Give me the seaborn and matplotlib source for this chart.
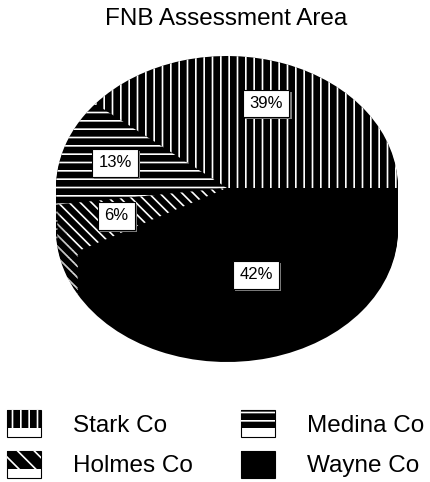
import matplotlib
matplotlib.use("Agg")
import matplotlib.pyplot as plt
import matplotlib.patheffects as pe
from matplotlib.patches import Patch, Rectangle
from matplotlib.legend_handler import HandlerBase
import seaborn as sns

# Data
counties = ['Stark Co', 'Medina Co', 'Holmes Co', 'Wayne Co']
shares = [39, 13, 6, 42]
hatches = ['||', '--', '\\\\\\', '']
legend_hatches = ['||', '--', '\\\\', '']

sns.set_theme(style='white')
plt.rcParams['font.family'] = ['Liberation Sans', 'DejaVu Sans']
plt.rcParams['text.color'] = 'black'
plt.rcParams['hatch.linewidth'] = 1.2


class SwatchHandler(HandlerBase):
    # hatched block on top, open white box underneath (as in the old chart legend)
    def create_artists(self, legend, orig_handle, xdescent, ydescent,
                       width, height, fontsize, trans):
        box = Rectangle((-xdescent, -ydescent), width, height,
                        facecolor='white', edgecolor='black', linewidth=0.8,
                        transform=trans)
        frac = 1.0 if orig_handle.get_hatch() in (None, '') else 0.68
        top = Rectangle((-xdescent, -ydescent + height * (1 - frac)),
                        width, height * frac, facecolor='black',
                        edgecolor='white', linewidth=0,
                        hatch=orig_handle.get_hatch(), transform=trans)
        return [box, top]


fig = plt.figure(figsize=(4.31, 4.82), dpi=100)
ax = fig.add_axes([56 / 431, 1 - 362 / 482, 342 / 431, 306 / 482])

depth = 42 / 132  # side thickness in units of the vertical radius
n_layers = 24

# side of the tilted pie: stacked copies, drawn bottom first
for k in range(n_layers, 0, -1):
    off = -depth * k / n_layers
    wedges, _ = ax.pie(shares, startangle=0, counterclock=True,
                       center=(0, off), radius=1,
                       wedgeprops=dict(linewidth=0))
    for w, h in zip(wedges, hatches):
        w.set_facecolor('black')
        w.set_edgecolor('white')
        w.set_hatch(h)

# top face
wedges, _, pcts = ax.pie(shares, startangle=0, counterclock=True,
                         center=(0, 0), radius=1,
                         autopct='%.0f%%', pctdistance=0.68,
                         wedgeprops=dict(linewidth=0),
                         textprops=dict(fontsize=12, color='black'))
for w, h in zip(wedges, hatches):
    w.set_facecolor('black')
    w.set_edgecolor('white')
    w.set_hatch(h)
for t in pcts:
    t.set_bbox(dict(boxstyle='square,pad=0.38', facecolor='white',
                    edgecolor='black', linewidth=0.8))
    t.get_bbox_patch().set_path_effects(
        [pe.SimplePatchShadow(offset=(1.5, -1.5), shadow_rgbFace='gray', alpha=1),
         pe.Normal()])

ax.set_aspect('auto')
ax.set_xlim(-1, 1)
ax.set_ylim(-1 - depth, 1)
ax.axis('off')

fig.text(226 / 431, 1 - 19 / 482, 'FNB Assessment Area', ha='center',
         va='center', fontsize=17.5)

handles = [Patch(facecolor='black', edgecolor='white', hatch=h, linewidth=0)
           for h in legend_hatches]
# two columns: Stark/Holmes left, Medina/Wayne right
order = [0, 2, 1, 3]
fig.legend([handles[i] for i in order], [counties[i] for i in order],
           ncol=2, loc='upper left', bbox_to_anchor=(7 / 431, 1 - 410 / 482),
           frameon=False, fontsize=17.5, borderpad=0, borderaxespad=0,
           handlelength=1.4, handleheight=1.32, handletextpad=1.3,
           columnspacing=2.0, labelspacing=0.58,
           handler_map={Patch: SwatchHandler()})

fig.savefig('out.png', dpi=100)
